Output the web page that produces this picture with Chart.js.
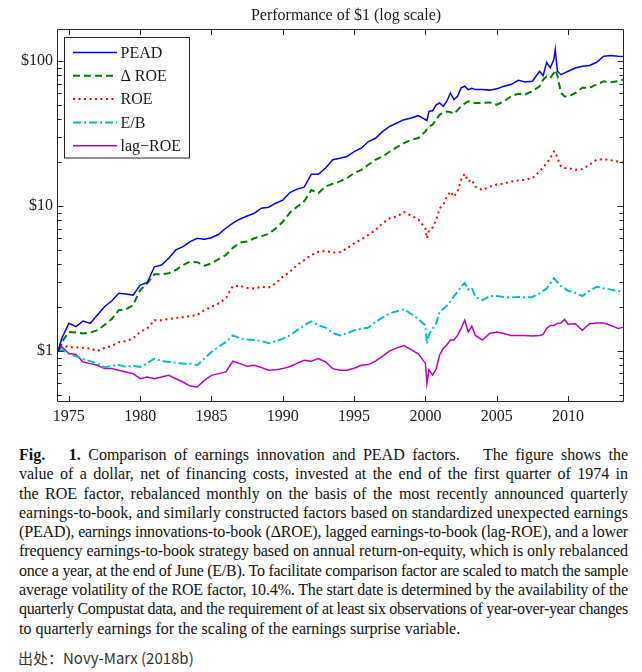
<!DOCTYPE html>
<html>
<head>
<meta charset="utf-8">
<title>Performance of $1</title>
<script src="https://cdn.jsdelivr.net/npm/chart.js@4.4.1/dist/chart.umd.min.js"></script>
<style>
  html, body { margin: 0; padding: 0; background: #fff; }
  body { width: 642px; height: 672px; overflow: hidden; position: relative; }
  #wrap { position: absolute; left: 0; top: 0; width: 642px; height: 430px; }
  #caption {
    position: absolute; left: 19px; top: 445px; width: 609px;
    font-family: "Liberation Serif", "Times New Roman", serif;
    font-size: 16px; line-height: 19.3px; color: #111;
  }
  .ln { white-space: nowrap; }
  #source {
    position: absolute; left: 18px; top: 648px; line-height: 20px;
    font-family: "Noto Sans CJK SC", "Noto Sans", sans-serif;
    font-size: 15px; color: #333;
  }
</style>
</head>
<body>
<div id="wrap"><canvas id="chart"></canvas></div>

<div id="caption">
  <div class="ln"><span><b>Fig.</b>&emsp; <b>1.</b> Comparison of earnings innovation and PEAD factors.&emsp; The figure shows the</span></div>
  <div class="ln"><span>value of a dollar, net of financing costs, invested at the end of the first quarter of 1974 in</span></div>
  <div class="ln"><span>the ROE factor, rebalanced monthly on the basis of the most recently announced quarterly</span></div>
  <div class="ln"><span>earnings-to-book, and similarly constructed factors based on standardized unexpected earnings</span></div>
  <div class="ln"><span>(PEAD), earnings innovations-to-book (ΔROE), lagged earnings-to-book (lag-ROE), and a lower</span></div>
  <div class="ln"><span>frequency earnings-to-book strategy based on annual return-on-equity, which is only rebalanced</span></div>
  <div class="ln"><span>once a year, at the end of June (E/B). To facilitate comparison factor are scaled to match the sample</span></div>
  <div class="ln"><span>average volatility of the ROE factor, 10.4%. The start date is determined by the availability of the</span></div>
  <div class="ln"><span>quarterly Compustat data, and the requirement of at least six observations of year-over-year changes</span></div>
  <div class="ln last"><span>to quarterly earnings for the scaling of the earnings surprise variable.</span></div>
</div>
<div id="source">出处：Novy-Marx (2018b)</div>

<script>
// sample dates (fractional years), denser around the 2000 and 2009 swings
const years = [
  1974.25, 1974.5,
  1975, 1975.5, 1976, 1976.5, 1977, 1977.5, 1978, 1978.5, 1979, 1979.5,
  1980, 1980.5, 1981, 1981.5, 1982, 1982.5, 1983, 1983.5, 1984, 1984.5,
  1985, 1985.5, 1986, 1986.5, 1987, 1987.5, 1988, 1988.5, 1989, 1989.5,
  1990, 1990.5, 1991, 1991.5, 1992, 1992.5, 1993, 1993.5, 1994, 1994.5,
  1995, 1995.5, 1996, 1996.5, 1997, 1997.5, 1998, 1998.5, 1999, 1999.5,
  2000, 2000.1, 2000.25, 2000.5, 2000.75,
  2001, 2001.25, 2001.5, 2001.75, 2002, 2002.25, 2002.5, 2002.75, 2003, 2003.25, 2003.5,
  2004, 2004.5, 2005, 2005.5, 2006, 2006.5, 2007, 2007.5,
  2008, 2008.25, 2008.5, 2008.75, 2009, 2009.1, 2009.25, 2009.5, 2009.75,
  2010, 2010.5, 2011, 2011.5, 2012, 2012.5, 2013, 2013.5, 2013.9
];

// value of $1 for each factor
const pead = [
  1.00, 1.22,
  1.55, 1.47, 1.61, 1.55, 1.77, 2.02, 2.21, 2.50, 2.47, 2.43,
  2.85, 2.97, 3.81, 3.92, 4.36, 4.98, 5.25, 5.68, 6.00, 5.90,
  6.05, 6.39, 7.03, 7.62, 8.15, 8.55, 8.93, 9.67, 9.82, 10.47,
  11.0, 12.4, 13.1, 13.5, 16.6, 16.6, 18.3, 20.9, 21.4, 22.0,
  23.8, 25.1, 27.9, 29.4, 32.8, 35.5, 37.5, 39.5, 40.6, 42.1,
  39.5, 39.0, 45.1, 45.5, 50.0,
  51.5, 48.9, 53.0, 60.4, 54.4, 57.3, 65.5, 67.2, 63.7, 65.0, 63.7,
  63.7, 63.2, 64.5, 67.2, 69.0, 73.9, 72.0, 72.8,
  85.3, 79.6, 98.4, 89.9, 102.7, 120.5, 85.3, 80.8, 83.2,
  85.3, 89.9, 92.3, 93.4, 98.4, 108.3, 109.4, 108.3, 107.8
];
const dRoe = [
  1.00, 1.15,
  1.35, 1.34, 1.32, 1.34, 1.39, 1.51, 1.66, 1.91, 1.94, 2.07,
  2.63, 2.93, 3.38, 3.38, 3.44, 3.62, 3.92, 4.13, 4.10, 3.88,
  4.02, 4.31, 4.59, 5.15, 5.60, 5.70, 6.00, 6.20, 6.42, 7.00,
  7.80, 9.00, 9.90, 10.8, 12.9, 12.3, 13.66, 14.26, 14.8, 15.6,
  16.9, 17.8, 19.3, 20.9, 22.0, 23.8, 25.5, 27.2, 28.7, 29.5,
  32.8, 34.0, 35.5, 36.5, 39.5,
  42.8, 44.0, 45.0, 44.5, 43.5, 46.0, 48.9, 51.0, 52.8, 52.0, 51.5,
  51.5, 52.0, 50.1, 52.8, 57.3, 59.7, 59.0, 62.2,
  67.2, 74.6, 78.7, 76.7, 83.0, 87.0, 80.0, 60.4, 57.3,
  56.8, 60.4, 65.5, 65.5, 69.0, 72.8, 71.6, 72.8, 74.6
];
const roe = [
  1.00, 1.10,
  1.06, 1.06, 1.05, 1.04, 1.00, 1.05, 1.08, 1.15, 1.17, 1.22,
  1.35, 1.43, 1.63, 1.63, 1.66, 1.69, 1.71, 1.74, 1.77, 1.91,
  2.02, 2.13, 2.30, 2.80, 2.81, 2.72, 2.70, 2.77, 2.74, 2.93,
  3.25, 3.52, 3.92, 4.24, 4.59, 4.84, 4.90, 4.77, 4.80, 5.10,
  5.54, 5.90, 6.32, 6.84, 7.62, 8.25, 8.46, 9.10, 8.60, 8.10,
  7.00, 6.00, 6.80, 7.10, 8.00,
  9.67, 10.2, 11.6, 12.6, 11.6, 12.6, 15.2, 16.7, 14.8, 15.2, 13.6,
  12.9, 13.6, 14.1, 14.3, 14.8, 15.0, 15.2, 15.6,
  17.3, 18.5, 19.8, 21.4, 23.8, 23.8, 21.4, 18.8, 18.3,
  18.3, 17.8, 18.0, 19.3, 20.9, 21.1, 20.7, 20.3, 20.0
];
const eb = [
  1.00, 1.02,
  0.95, 0.92, 0.88, 0.85, 0.82, 0.77, 0.79, 0.80, 0.775, 0.79,
  0.775, 0.82, 0.886, 0.853, 0.84, 0.83, 0.817, 0.817, 0.796, 0.886,
  0.984, 1.07, 1.15, 1.28, 1.22, 1.20, 1.19, 1.17, 1.13, 1.17,
  1.21, 1.28, 1.39, 1.50, 1.60, 1.50, 1.45, 1.33, 1.28, 1.32,
  1.39, 1.42, 1.45, 1.59, 1.70, 1.82, 1.88, 1.94, 1.80, 1.66,
  1.50, 1.12, 1.30, 1.42, 1.55,
  1.87, 1.95, 2.05, 2.20, 2.39, 2.55, 2.77, 2.95, 2.65, 2.73, 2.36,
  2.24, 2.39, 2.39, 2.36, 2.34, 2.36, 2.34, 2.36,
  2.50, 2.60, 2.70, 2.93, 3.17, 3.10, 3.00, 2.80, 2.70,
  2.60, 2.52, 2.39, 2.60, 2.77, 2.70, 2.65, 2.60, 2.56
];
const lagRoe = [
  1.00, 1.07,
  0.96, 0.944, 0.839, 0.817, 0.796, 0.755, 0.755, 0.735, 0.716, 0.697,
  0.643, 0.66, 0.643, 0.66, 0.678, 0.643, 0.61, 0.572, 0.563, 0.626,
  0.678, 0.697, 0.716, 0.849, 0.817, 0.785, 0.796, 0.768, 0.735, 0.74,
  0.755, 0.78, 0.82, 0.863, 0.85, 0.886, 0.84, 0.755, 0.735, 0.735,
  0.76, 0.796, 0.805, 0.85, 0.92, 1.00, 1.05, 1.09, 1.02, 0.955,
  0.82, 0.595, 0.74, 0.68, 0.75,
  0.94, 1.04, 1.10, 1.19, 1.19, 1.28, 1.43, 1.63, 1.35, 1.48, 1.28,
  1.19, 1.32, 1.35, 1.32, 1.28, 1.28, 1.28, 1.27,
  1.28, 1.30, 1.43, 1.50, 1.50, 1.52, 1.55, 1.56, 1.65,
  1.53, 1.54, 1.39, 1.54, 1.56, 1.56, 1.50, 1.43, 1.46
];

const xTicks = [1975, 1980, 1985, 1990, 1995, 2000, 2005, 2010];
const yTicks = [1, 10, 100];
const yTickLabels = ["$1", "$10", "$100"];

const SERIF = '"Liberation Serif", "Times New Roman", serif';
const INK = "#1a1a1a";

const pts = (vals) => years.map((x, i) => ({ x: x, y: vals[i] }));

// inward tick marks and the closed box, matlab style
const framePlugin = {
    id: "frame",
    afterDatasetsDraw(chart) {
        const { ctx, chartArea: a, scales } = chart;
        const L = Math.round(a.left) + 0.5;
        const R = Math.round(a.right) - 0.5;
        const T = Math.round(a.top) + 0.5;
        const B = Math.round(a.bottom) - 0.5;
        ctx.save();
        ctx.strokeStyle = "#262626";
        ctx.lineWidth = 1;
        ctx.beginPath();
        ctx.rect(L, T, R - L, B - T);

        xTicks.forEach((v) => {
            const px = Math.round(scales.x.getPixelForValue(v)) + 0.5;
            ctx.moveTo(px, B);
            ctx.lineTo(px, B - 5.5);
            ctx.moveTo(px, T);
            ctx.lineTo(px, T + 5.5);
        });

        const yMin = scales.y.min;
        const yMax = scales.y.max;
        [0.1, 1, 10, 100].forEach((d) => {
            for (let m = 1; m <= 9; m++) {
                const v = m * d;
                if (v < yMin || v > yMax) continue;
                const len = m === 1 ? 6 : 4;
                const py = Math.round(scales.y.getPixelForValue(v)) + 0.5;
                ctx.moveTo(L, py);
                ctx.lineTo(L + len, py);
                ctx.moveTo(R, py);
                ctx.lineTo(R - len, py);
            }
        });
        ctx.stroke();
        ctx.restore();
    },
    afterDraw(chart) {
        const { ctx, chartArea: a } = chart;
        ctx.save();

        // title
        ctx.fillStyle = INK;
        ctx.font = "16px " + SERIF;
        ctx.textAlign = "center";
        ctx.textBaseline = "alphabetic";
        ctx.fillText("Performance of $1 (log scale)", 346, 19.5);

        // legend box in the upper left corner
        const bx = Math.round(a.left + 7) + 0.5;
        const by = Math.round(a.top + 7.5) + 0.5;
        const bw = 125;
        const bh = 120.5;
        ctx.fillStyle = "#fff";
        ctx.fillRect(bx, by, bw, bh);
        ctx.strokeStyle = "#262626";
        ctx.lineWidth = 1;
        ctx.strokeRect(bx, by, bw, bh);

        ctx.textAlign = "left";
        ctx.textBaseline = "middle";
        chart.data.datasets.forEach((ds, i) => {
            const cy = by + 15 + i * 23.3;
            ctx.save();
            ctx.strokeStyle = ds.borderColor;
            ctx.lineWidth = ds.borderWidth;
            ctx.setLineDash(ds.borderDash || []);
            ctx.beginPath();
            ctx.moveTo(bx + 8.5, cy);
            ctx.lineTo(bx + 52.5, cy);
            ctx.stroke();
            ctx.restore();
            ctx.fillStyle = INK;
            ctx.fillText(ds.label, bx + 56, cy + 1);
        });
        ctx.restore();
    },
};

const datasets = [
    { label: "PEAD", data: pts(pead), borderColor: "rgb(0, 0, 255)", borderWidth: 1.5 },
    { label: "\u0394 ROE", data: pts(dRoe), borderColor: "rgb(0, 128, 0)", borderWidth: 2, borderDash: [7, 4] },
    { label: "ROE", data: pts(roe), borderColor: "rgb(255, 0, 0)", borderWidth: 2, borderDash: [2, 3.5] },
    { label: "E/B", data: pts(eb), borderColor: "rgb(0, 191, 191)", borderWidth: 2, borderDash: [8, 3, 2, 3] },
    { label: "lag\u2212ROE", data: pts(lagRoe), borderColor: "rgb(191, 0, 191)", borderWidth: 1.5 },
].map((d) => Object.assign({ pointRadius: 0, tension: 0, fill: false }, d));

const tickFont = { family: SERIF, size: 16 };

function drawChart() {
    new Chart(document.getElementById("chart").getContext("2d"), {
        type: "line",
        data: { datasets },
        options: {
            responsive: true,
            maintainAspectRatio: false,
            animation: false,
            layout: { padding: { left: 0, right: 18, top: 29, bottom: 0 } },
            plugins: {
                legend: { display: false },
                tooltip: { enabled: false },
                title: { display: false },
            },
            scales: {
                x: {
                    type: "linear",
                    min: 1974.17,
                    max: 2013.92,
                    grid: { display: false, drawTicks: false },
                    border: { display: false },
                    afterBuildTicks: (s) => { s.ticks = xTicks.map((v) => ({ value: v })); },
                    afterFit: (s) => { s.height = 28; },
                    ticks: {
                        padding: 5,
                        color: INK,
                        font: tickFont,
                        autoSkip: false,
                        maxRotation: 0,
                        callback: (v) => String(v),
                    },
                },
                y: {
                    type: "logarithmic",
                    min: 0.444,
                    max: 167,
                    grid: { display: false, drawTicks: false },
                    border: { display: false },
                    afterBuildTicks: (s) => { s.ticks = yTicks.map((v) => ({ value: v })); },
                    afterFit: (s) => { s.width = 57; },
                    ticks: {
                        padding: 4,
                        color: INK,
                        font: tickFont,
                        autoSkip: false,
                        callback: (v, i) => yTickLabels[i],
                    },
                },
            },
        },
        plugins: [framePlugin],
    });
}

// stretch each caption line to the full width; lines that are too long get tighter letters
function justifyCaption() {
    const box = document.getElementById("caption");
    const W = box.clientWidth;
    box.querySelectorAll(".ln").forEach((ln) => {
        if (ln.classList.contains("last")) return;
        const span = ln.firstElementChild;
        const natural = span.getBoundingClientRect().width;
        const text = span.textContent;
        if (natural > W) {
            ln.style.letterSpacing = (W - natural) / (text.length - 1) + "px";
            const now = span.getBoundingClientRect().width;
            const gaps = (text.match(/[ \u00a0]/g) || []).length;
            if (gaps > 0) ln.style.wordSpacing = (W - now) / gaps + "px";
        } else {
            const gaps = (text.match(/[ \u00a0]/g) || []).length;
            if (gaps > 0) ln.style.wordSpacing = (W - natural) / gaps + "px";
        }
    });
}

const fontsReady = document.fonts
    ? Promise.all([
          document.fonts.load('16px "Liberation Serif"'),
          document.fonts.load('bold 16px "Liberation Serif"'),
      ]).catch(() => null)
    : Promise.resolve();

fontsReady.then(() => {
    drawChart();
    justifyCaption();
});
</script>
</body>
</html>
